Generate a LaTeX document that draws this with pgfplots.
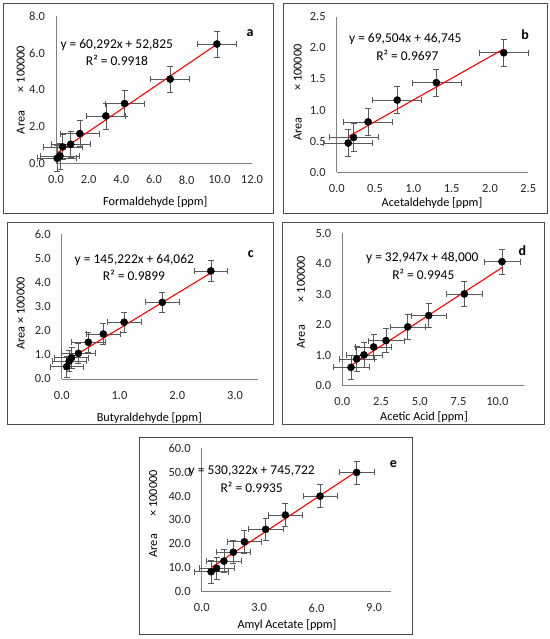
\documentclass[border=0pt]{standalone}
\usepackage{fontspec}
\setmainfont{Carlito}
\usepackage{pgfplots}
\pgfplotsset{compat=1.18}
\pgfplotsset{
  panel/.style={
    scale only axis,
    axis lines=left,
    axis line style={-, draw=black!50, line width=0.8bp},
    major tick length=0pt,
    tick style={draw=none},
    ticklabel style={font=\fontsize{12.5}{12.5}\selectfont, text=black!85},
    /pgf/number format/assume math mode=true,
    /pgf/number format/fixed,
    /pgf/number format/fixed zerofill,
    /pgf/number format/precision=1,
    xticklabel shift=8.5bp,
    yticklabel shift=7.5bp,
    clip=false,
  },
  pts/.style={only marks, mark=*, mark size=3.6bp, mark options={fill=black, draw=black}},
  ebar/.style={error bar style={black!65, line width=0.6bp},
    error mark options={rotate=90, mark size=3bp, black!65, line width=0.6bp}},
  trend/.style={red, line width=1.1bp},
}
\tikzset{
  eq/.style={font=\fontsize{13.5}{13.5}\selectfont},
  ttl/.style={font=\fontsize{12.3}{12.3}\selectfont},
  lt/.style={font=\fontsize{14}{14}\selectfont\bfseries},
}
\begin{document}
\begin{tikzpicture}[x=1bp,y=1bp]
\path[use as bounding box] (0,0) rectangle (550,639);
% boxes
\draw[black!70, line width=0.8bp] (3,426) rectangle (273,636);
\draw[black!70, line width=0.8bp] (283,426) rectangle (547,636);
\draw[black!70, line width=0.8bp] (7,215) rectangle (273,416.7);
\draw[black!70, line width=0.8bp] (282,215) rectangle (544.3,417);
\draw[black!70, line width=0.8bp] (139,5) rectangle (412,201.3);

% ---------- a ----------
\begin{axis}[panel, at={(56bp,475.5bp)}, anchor=south west, width=196bp, height=147.5bp,
  xmin=0, xmax=12, ymin=0, ymax=8, xtick={0,2,...,12}, ytick={0,2,...,8}]
\addplot[pts, error bars/.cd, x dir=both, x fixed=1.2, y dir=both, y fixed=0.7, /pgfplots/ebar] coordinates {
(0.07,0.28) (0.24,0.41) (0.41,0.90) (0.90,1.04) (1.46,1.62) (3.05,2.58) (4.20,3.25) (6.99,4.58) (9.85,6.48)};
\addplot[trend] coordinates {(0.07,0.5705) (9.85,6.4670)};
\end{axis}
\node[ttl, rotate=90] at (20.7,516.5) {Area};
\node[ttl, rotate=90] at (20.7,570) {× 100000};
\node[ttl] at (155.3,437.3) {Formaldehyde [ppm]};
\node[eq] at (116.7,594) {y = 60,292x + 52,825};
\node[eq] at (117,579) {R² = 0.9918};
\node[lt] at (250,605.7) {a};

% ---------- b ----------
\begin{axis}[panel, at={(336.7bp,466.7bp)}, anchor=south west, width=191.6bp, height=155.6bp,
  xmin=0, xmax=2.5, ymin=0, ymax=2.5, xtick={0,0.5,...,2.5}, ytick={0,0.5,...,2.5}]
\addplot[pts, error bars/.cd, x dir=both, x fixed=0.32, y dir=both, y fixed=0.22, /pgfplots/ebar] coordinates {
(0.15,0.47) (0.22,0.56) (0.41,0.81) (0.79,1.16) (1.30,1.44) (2.18,1.92)};
\addplot[trend] coordinates {(0.15,0.5717) (2.18,1.9827)};
\end{axis}
\node[ttl, rotate=90] at (297.7,510) {Area};
\node[ttl, rotate=90] at (297.7,571.5) {× 100000};
\node[ttl] at (432,436.3) {Acetaldehyde [ppm]};
\node[eq] at (405.3,599.7) {y = 69,504x + 46,745};
\node[eq] at (407.3,584) {R² = 0.9697};
\node[lt] at (525,604) {b};

% ---------- c ----------
\begin{axis}[panel, at={(61.7bp,260bp)}, anchor=south west, width=196.5bp, height=145bp,
  xmin=0, xmax=3.4, ymin=0, ymax=6, xtick={0,1,2,3}, ytick={0,1,...,6}]
\addplot[pts, error bars/.cd, x dir=both, x fixed=0.29, y dir=both, y fixed=0.43, /pgfplots/ebar] coordinates {
(0.087,0.51) (0.13,0.74) (0.17,0.88) (0.29,1.06) (0.46,1.52) (0.72,1.86) (1.08,2.35) (1.74,3.17) (2.58,4.47)};
\addplot[trend] coordinates {(0.087,0.7670) (2.58,4.3874)};
\end{axis}
\node[ttl, rotate=90] at (20.7,325.7) {Area × 100000};
\node[ttl] at (149.3,220.7) {Butyraldehyde [ppm]};
\node[eq] at (134.3,379) {y = 145,222x + 64,062};
\node[eq] at (134,363.3) {R² = 0.9899};
\node[lt] at (250.7,384.7) {c};

% ---------- d ----------
\begin{axis}[panel, at={(342.3bp,253.3bp)}, anchor=south west, width=181.4bp, height=152.4bp,
  xmin=0, xmax=11.7, ymin=0, ymax=5, xtick={0,2.5,5,7.5,10}, ytick={0,1,...,5}]
\addplot[pts, error bars/.cd, x dir=both, x fixed=1.15, y dir=both, y fixed=0.4, /pgfplots/ebar] coordinates {
(0.56,0.60) (0.93,0.88) (1.40,1.01) (2.02,1.27) (2.82,1.48) (4.22,1.93) (5.57,2.30) (7.87,3.01) (10.3,4.07)};
\addplot[trend] coordinates {(0.56,0.6645) (10.3,3.8735)};
\end{axis}
\node[ttl, rotate=90] at (301,302.3) {Area};
\node[ttl, rotate=90] at (301,360) {× 100000};
\node[ttl] at (424,222.3) {Acetic Acid [ppm]};
\node[eq] at (422.3,381.3) {y = 32,947x + 48,000};
\node[eq] at (423.3,364.7) {R² = 0.9945};
\node[lt] at (522.3,388) {d};

% ---------- e ----------
\begin{axis}[panel, at={(201.7bp,47.3bp)}, anchor=south west, width=189.6bp, height=143.4bp,
  xmin=0, xmax=9.9, ymin=0, ymax=60, xtick={0,3,6,9}, ytick={0,10,...,60}]
\addplot[pts, error bars/.cd, x dir=both, x fixed=0.9, y dir=both, y fixed=4.8, /pgfplots/ebar] coordinates {
(0.49,8.37) (0.78,9.8) (1.16,12.8) (1.65,16.5) (2.23,20.9) (3.34,26.1) (4.37,32.1) (6.18,40.0) (8.09,49.9)};
\addplot[trend] coordinates {(0.49,10.056) (8.09,50.36)};
\end{axis}
\node[ttl, rotate=90] at (153.3,93.3) {Area};
\node[ttl, rotate=90] at (153.3,145.7) {× 100000};
\node[ttl] at (287,14) {Amyl Acetate [ppm]};
\node[eq] at (251.7,167.3) {y = 530,322x + 745,722};
\node[eq] at (251.7,152) {R² = 0.9935};
\node[lt] at (393.3,174.7) {e};
\end{tikzpicture}
\end{document}
